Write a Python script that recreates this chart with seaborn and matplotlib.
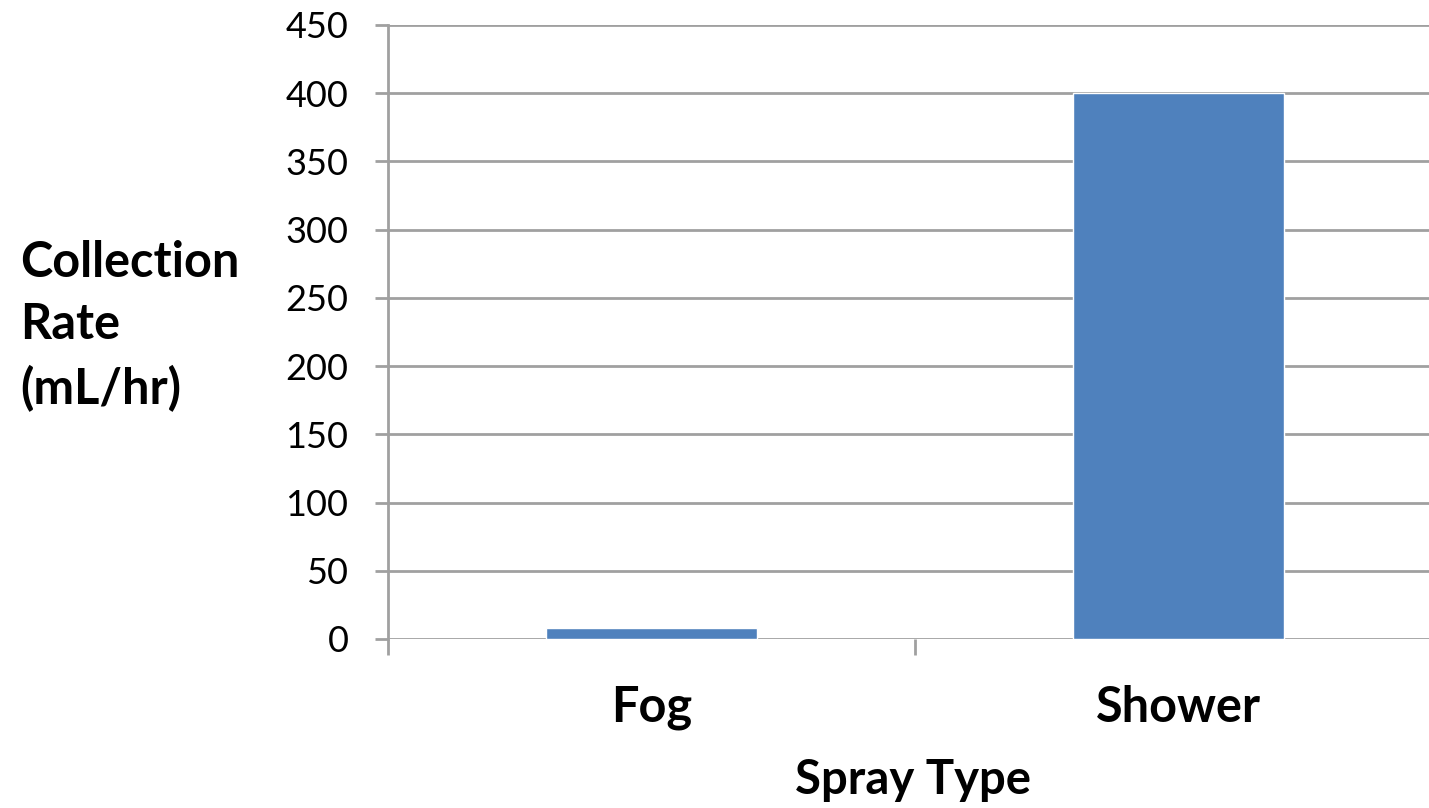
import matplotlib
matplotlib.use("Agg")
import matplotlib.pyplot as plt
import seaborn as sns
import pandas as pd
from matplotlib.ticker import FixedLocator

categories = ["Fog", "Shower"]
rates = [8, 400]
y_ticks = [0, 50, 100, 150, 200, 250, 300, 350, 400, 450]

sns.set_theme(style="white")
plt.rcParams["font.family"] = ["Lato", "DejaVu Sans"]

df = pd.DataFrame({"Spray Type": categories, "Rate": rates})

fig = plt.figure(figsize=(14.29, 8.08), dpi=100)
ax = fig.add_axes([388 / 1429, 1 - 639 / 808, 1054 / 1429, 614 / 808])

grid_color = "#a0a0a0"
sns.barplot(data=df, x="Spray Type", y="Rate", color="#4F81BD", width=0.4,
            saturation=1, ax=ax, zorder=3)

ax.set_xlim(-0.5, 1.5)
ax.set_ylim(0, 450)
ax.set_yticks(y_ticks)
ax.yaxis.grid(True, color=grid_color, linewidth=2, zorder=0)
ax.set_axisbelow(True)

for side in ["top", "right", "bottom"]:
    ax.spines[side].set_visible(False)
ax.spines["left"].set_color(grid_color)
ax.spines["left"].set_linewidth(2)

ax.tick_params(axis="y", which="major", length=9.5, width=2, color=grid_color,
               labelsize=26, pad=19, left=True, labelcolor="black")
ax.tick_params(axis="x", which="major", length=0, labelsize=35, pad=33,
               labelcolor="black")
ax.xaxis.set_minor_locator(FixedLocator([-0.5, 0.5, 1.5]))
ax.tick_params(axis="x", which="minor", length=11.5, width=2, color=grid_color,
               bottom=True, direction="out")
for lbl in ax.get_xticklabels():
    lbl.set_fontweight("bold")

ax.set_xlabel("Spray Type", fontsize=34, fontweight="bold", color="black")
ax.xaxis.set_label_coords((913 - 388) / 1054, -(780 - 639) / 614)
ax.xaxis.label.set_va("center")
ax.set_ylabel("")
fig.text(20 / 1429, 1 - 326 / 808, "Collection\nRate\n(mL/hr)", fontsize=35,
         fontweight="bold", ha="left", va="center", linespacing=1.45,
         color="black")

fig.savefig("out.png", dpi=100)
